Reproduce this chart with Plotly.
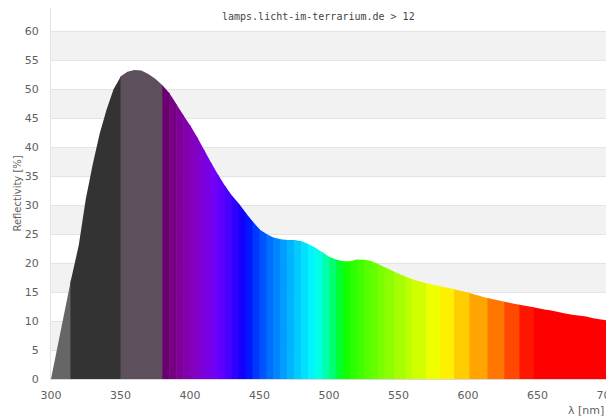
import numpy as np
import plotly.graph_objects as go

# ---- data ----
wavelength = list(range(300, 705, 5))
reflectivity = [
    0.0, 6.1, 12.3, 17.8, 23.1, 31.0, 37.0, 42.3, 46.5, 50.0,   # 300-345
    52.2, 53.0, 53.3, 53.2, 52.6, 51.8, 50.7, 49.4, 47.5, 45.6,  # 350-395
    43.8, 41.8, 39.6, 37.4, 35.3, 33.4, 31.7, 30.3, 28.7, 27.2,  # 400-445
    25.8, 25.0, 24.4, 24.1, 24.0, 24.0, 23.8, 23.3, 22.7, 21.9,  # 450-495
    21.1, 20.6, 20.3, 20.3, 20.6, 20.6, 20.4, 19.9, 19.3, 18.7,  # 500-545
    18.2, 17.7, 17.2, 16.8, 16.5, 16.2, 16.0, 15.8, 15.5, 15.2,  # 550-595
    14.9, 14.6, 14.2, 13.9, 13.6, 13.4, 13.1, 12.9, 12.7, 12.5,  # 600-645
    12.2, 12.0, 11.8, 11.5, 11.3, 11.1, 11.0, 10.8, 10.5, 10.3,  # 650-695
    10.1,                                                        # 700
]

# colour band edges (nm)
uv_edges = [300, 314, 350, 380]
uv_colors = ["#666666", "#333333", "#5c505c"]
visible_edges = list(range(380, 545, 5)) + [547, 555, 560, 570, 580, 590, 601, 614, 626, 637, 647, 700]

title_text = "lamps.licht-im-terrarium.de > 12"
x_title = "λ [nm]"
y_title = "Reflectivity [%]"
y_ticks = list(range(0, 65, 5))
x_ticks = list(range(300, 750, 50))


def wl_to_rgb(wl, gamma=0.8):
    if wl < 440:
        r, g, b = -(wl - 440) / 60.0, 0.0, 1.0
    elif wl < 490:
        r, g, b = 0.0, (wl - 440) / 50.0, 1.0
    elif wl < 510:
        r, g, b = 0.0, 1.0, -(wl - 510) / 20.0
    elif wl < 580:
        r, g, b = (wl - 510) / 70.0, 1.0, 0.0
    elif wl < 645:
        r, g, b = 1.0, -(wl - 645) / 65.0, 0.0
    else:
        r, g, b = 1.0, 0.0, 0.0
    if wl < 420:
        f = 0.3 + 0.7 * (wl - 380) / 40.0
    elif wl > 700:
        f = 0.3 + 0.7 * (780 - wl) / 80.0
    else:
        f = 1.0
    def c(v):
        v = max(0.0, min(1.0, v))
        return 0 if v == 0 else int(round(255 * (v * f) ** gamma))
    return f"rgb({c(r)},{c(g)},{c(b)})"


wl_arr = np.array(wavelength, dtype=float)
rf_arr = np.array(reflectivity, dtype=float)

bands = [(uv_edges[i], uv_edges[i + 1], uv_colors[i]) for i in range(len(uv_colors))]
for i in range(len(visible_edges) - 1):
    a, b = visible_edges[i], visible_edges[i + 1]
    bands.append((a, b, wl_to_rgb((a + b) / 2)))

fig = go.Figure()
for a, b, col in bands:
    b2 = min(b + 0.4, 700)
    inner = wl_arr[(wl_arr > a) & (wl_arr < b2)]
    xs = np.concatenate([[a], inner, [b2]])
    ys = np.interp(xs, wl_arr, rf_arr)
    fig.add_trace(go.Scatter(
        x=xs, y=ys, mode="lines", fill="tozeroy",
        fillcolor=col, line=dict(width=0, color=col),
        hoverinfo="skip", showlegend=False,
    ))

shapes = []
for lo in range(5, 60, 10):
    shapes.append(dict(type="rect", xref="paper", yref="y", x0=0, x1=1, y0=lo, y1=lo + 5,
                       fillcolor="#f2f2f2", line=dict(width=0), layer="below"))

# the page adds an 8px body margin, so the figure is 8px smaller than the window
fig.update_layout(
    width=606, height=410,
    margin=dict(l=43, r=7, t=0, b=39, pad=0, autoexpand=False),
    paper_bgcolor="white", plot_bgcolor="white",
    shapes=shapes,
    showlegend=False,
    font=dict(family="DejaVu Sans", size=11, color="#606060"),
    xaxis=dict(range=[300, 700], tickvals=x_ticks, showgrid=False, zeroline=False,
               showline=True, linecolor="#d8d8d8", linewidth=1, mirror=True,
               ticks="outside", ticklen=6, tickcolor="rgba(0,0,0,0)",
               ticklabeloverflow="allow",
               automargin=False, tickfont=dict(size=11, color="#606060")),
    yaxis=dict(range=[0, 64], tickvals=y_ticks, showgrid=True, gridcolor="#e4e4e4",
               gridwidth=1, zeroline=False, showline=True, linecolor="#e4e4e4",
               mirror=True, ticks="outside", ticklen=9, tickcolor="rgba(0,0,0,0)",
               automargin=False, tickfont=dict(size=11, color="#606060")),
    annotations=[
        dict(text=title_text, xref="paper", yref="paper", x=0.482, y=0.976,
             showarrow=False, xanchor="center", yanchor="middle",
             font=dict(family="DejaVu Sans Mono", size=10, color="#444444")),
        dict(text=x_title, xref="paper", yref="paper", x=0.998, y=-0.086,
             showarrow=False, xanchor="right", yanchor="middle",
             font=dict(size=11, color="#606060")),
        dict(text=y_title, xref="paper", yref="paper", x=-0.061, y=0.5,
             showarrow=False, xanchor="center", yanchor="middle", textangle=-90,
             font=dict(size=10, color="#606060")),
    ],
)

fig.write_html("out.html")
